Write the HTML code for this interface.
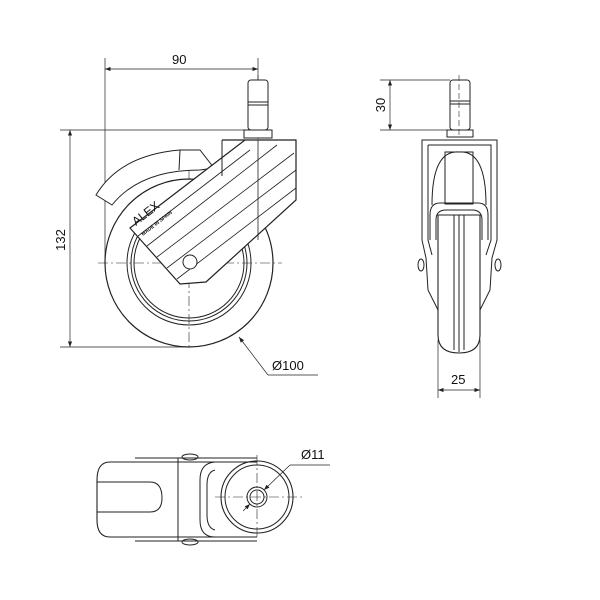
<!DOCTYPE html>
<html><head><style>body{margin:0;background:#fff}svg{display:block}text{font-family:"Liberation Sans",sans-serif;font-size:13px;fill:#111;stroke:none}</style></head>
<body>
<svg width="600" height="600" viewBox="0 0 600 600" fill="none" stroke="#222" stroke-width="1">
<defs><marker id="a" markerWidth="8" markerHeight="6" refX="8" refY="3" orient="auto-start-reverse"><path d="M0,0 L8,3 L0,6z" fill="#222" stroke="none"/></marker></defs>
<!-- SIDE VIEW -->
<g stroke-width="0.7">
<line x1="105" y1="58" x2="105" y2="262"/><line x1="258" y1="58" x2="258" y2="80"/>
<line x1="105" y1="69" x2="258" y2="69" marker-start="url(#a)" marker-end="url(#a)"/>
<line x1="60" y1="130" x2="245" y2="130"/><line x1="60" y1="347" x2="190" y2="347"/>
<line x1="70" y1="130" x2="70" y2="347" marker-start="url(#a)" marker-end="url(#a)"/>
<line x1="239" y1="337" x2="268" y2="375" marker-start="url(#a)"/><line x1="268" y1="375" x2="318" y2="375"/>
</g>
<text x="172" y="64">90</text>
<text x="0" y="0" transform="translate(65,240) rotate(-90)" text-anchor="middle">132</text>
<text x="272" y="370">Ø100</text>
<circle cx="189" cy="263" r="84" stroke-width="1.2"/>
<circle cx="189" cy="263" r="62"/><circle cx="189" cy="263" r="58"/><circle cx="189" cy="263" r="55"/>
<g stroke-dasharray="10,3,2,3" stroke-width="0.6"><line x1="98" y1="263" x2="282" y2="263"/><line x1="189" y1="170" x2="189" y2="350"/><line x1="258" y1="75" x2="258" y2="230"/></g>
<rect x="248" y="80" width="20" height="50" rx="3" fill="#fff"/><line x1="248" y1="102" x2="268" y2="102"/><line x1="248" y1="105" x2="268" y2="105"/>
<rect x="244" y="130" width="28" height="8" fill="#fff"/>
<path d="M96,195 Q120,155 180,150 L200,150 L214,168 L200,170 Q140,170 112,205 Z" fill="#fff"/>
<line x1="180" y1="150" x2="179" y2="170"/>
<path d="M222,140 L296,140 L296,200 L206,282 L180,284 L130,228 L245,140" fill="#fff" stroke-width="1.2"/>
<line x1="222" y1="140" x2="222" y2="176"/>
<g stroke-width="0.8"><line x1="258" y1="140" x2="258" y2="240"/>
<line x1="138" y1="236" x2="250" y2="150"/><line x1="147" y1="246" x2="277" y2="145"/>
<line x1="157" y1="257" x2="294" y2="153"/><line x1="167" y1="268" x2="296" y2="170"/><line x1="177" y1="279" x2="296" y2="188"/></g>
<circle cx="190" cy="262" r="7" fill="#fff"/>
<text x="0" y="0" transform="translate(136,226) rotate(-38)" style="font-size:12px">ALEX</text>
<text x="0" y="0" transform="translate(143,236) rotate(-38)" style="font-size:5px;font-weight:bold">MADE IN SPAIN</text>
<!-- FRONT VIEW -->
<g stroke-width="0.7"><line x1="380" y1="80" x2="450" y2="80"/><line x1="380" y1="130" x2="447" y2="130"/>
<line x1="390" y1="80" x2="390" y2="130" marker-start="url(#a)" marker-end="url(#a)"/>
<line x1="438" y1="340" x2="438" y2="398"/><line x1="480" y1="340" x2="480" y2="398"/>
<line x1="438" y1="390" x2="480" y2="390" marker-start="url(#a)" marker-end="url(#a)"/></g>
<text x="0" y="0" transform="translate(385,105) rotate(-90)" text-anchor="middle">30</text>
<text x="451" y="384">25</text>
<rect x="450" y="80" width="20" height="50" rx="3"/><line x1="450" y1="101" x2="470" y2="101"/><line x1="450" y1="104" x2="470" y2="104"/>
<rect x="447" y="130" width="26" height="7"/>
<path d="M422,140 L497,140 L497,240 L492,258 L490,290 L480,310 L438,310 L428,290 L426,258 L422,240 Z"/>
<path d="M428,145 L491,145 L491,240 L486,255 M428,145 L428,240 L432,255"/>
<path d="M432,205 Q432,150 459,152 Q486,150 486,205"/>
<rect x="445" y="152" width="28" height="52"/>
<path d="M430,240 L430,215 Q430,203 440,203 L478,203 Q488,203 488,215 L488,240"/>
<path d="M436,240 L436,220 Q436,210 446,210 L472,210 Q482,210 482,220 L482,240"/>
<path d="M438,215 L480,215 L480,335 Q480,353 459,353 Q438,353 438,335 Z" fill="#fff" stroke-width="1.1"/>
<line x1="454" y1="215" x2="454" y2="350"/><line x1="459" y1="215" x2="459" y2="352"/><line x1="464" y1="215" x2="464" y2="350"/>
<ellipse cx="421" cy="265" rx="3" ry="6"/><ellipse cx="498" cy="265" rx="3" ry="6"/>
<line x1="459" y1="75" x2="459" y2="135" stroke-dasharray="6,3" stroke-width="0.6"/>
<!-- BOTTOM VIEW -->
<path d="M257,462 L110,462 Q97,462 97,480 L97,520 Q97,537 110,537 L257,537" stroke-width="1.1"/>
<path d="M135,458 L257,458 M135,541 L257,541"/>
<path d="M97,482 L150,482 Q162,482 162,498 Q162,512 150,512 L97,512"/>
<line x1="178" y1="458" x2="178" y2="541"/>
<path d="M215,462 Q200,463 200,480 L200,520 Q200,537 215,537"/>
<path d="M215,470 Q207,472 207,485 L207,515 Q207,528 215,530"/>
<ellipse cx="190" cy="457" rx="8" ry="3"/><ellipse cx="190" cy="542" rx="8" ry="3"/>
<circle cx="257" cy="497" r="36" stroke-width="1.1"/><circle cx="257" cy="497" r="32"/>
<circle cx="257" cy="497" r="10"/><circle cx="257" cy="497" r="7"/>
<g stroke-dasharray="10,3,2,3" stroke-width="0.6"><line x1="215" y1="497" x2="305" y2="497"/><line x1="257" y1="455" x2="257" y2="540"/></g>
<g stroke-width="0.7"><line x1="264" y1="490" x2="290" y2="465" marker-start="url(#a)"/><line x1="290" y1="465" x2="330" y2="465"/><line x1="250" y1="504" x2="243" y2="511" marker-start="url(#a)"/></g>
<text x="301" y="459">Ø11</text>
</svg>
</body></html>
